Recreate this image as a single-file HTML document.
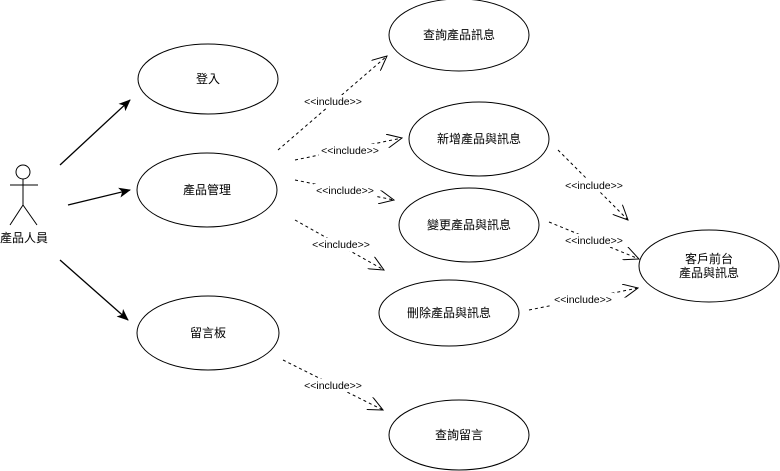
<!DOCTYPE html>
<html><head><meta charset="utf-8"><style>
html,body{margin:0;padding:0;background:#fff;}
svg{display:block;}
text{font-family:"Liberation Sans","Noto Sans CJK TC",sans-serif;fill:#000;}
</style></head><body>
<svg width="780" height="471" viewBox="0 0 780 471" xmlns="http://www.w3.org/2000/svg">
<defs>
<marker id="fill" markerWidth="12" markerHeight="10" refX="11" refY="5" orient="auto" markerUnits="userSpaceOnUse">
<path d="M0,0 L12,5 L0,10 L3,5 Z" fill="#000"/>
</marker>
<marker id="open" markerWidth="16" markerHeight="14" refX="15" refY="7" orient="auto" markerUnits="userSpaceOnUse">
<path d="M0,0 L15,7 L0,14" fill="none" stroke="#000" stroke-width="1"/>
</marker>
</defs>
<g fill="#fff" stroke="#000" stroke-width="1">
<ellipse cx="208" cy="79" rx="70" ry="35"/>
<ellipse cx="207" cy="190" rx="70" ry="37"/>
<ellipse cx="208" cy="333" rx="71" ry="37"/>
<ellipse cx="459" cy="35" rx="70" ry="36"/>
<ellipse cx="479" cy="139" rx="70" ry="37"/>
<ellipse cx="469" cy="225" rx="70" ry="37"/>
<ellipse cx="449" cy="313" rx="70" ry="33"/>
<ellipse cx="709" cy="266" rx="70" ry="36"/>
<ellipse cx="459" cy="435" rx="70" ry="35"/>
</g>
<g stroke="#000" stroke-width="1" fill="none">
<circle cx="23" cy="172" r="7"/>
<line x1="23" y1="179" x2="23" y2="205"/>
<line x1="10" y1="185" x2="38" y2="185"/>
<line x1="23" y1="205" x2="10" y2="225"/>
<line x1="23" y1="205" x2="37" y2="225"/>
</g>
<g stroke="#000" stroke-width="1.3">
<line x1="60" y1="165" x2="130" y2="100" marker-end="url(#fill)"/>
<line x1="68" y1="205" x2="130" y2="190" marker-end="url(#fill)"/>
<line x1="60" y1="260" x2="128" y2="320" marker-end="url(#fill)"/>
</g>
<g stroke="#000" stroke-width="1" stroke-dasharray="3,3" fill="none">
<line x1="278" y1="150" x2="387" y2="56" marker-end="url(#open)"/>
<line x1="295" y1="160" x2="402" y2="138" marker-end="url(#open)"/>
<line x1="295" y1="180" x2="394" y2="200" marker-end="url(#open)"/>
<line x1="295" y1="220" x2="384" y2="270" marker-end="url(#open)"/>
<line x1="558" y1="150" x2="628" y2="220" marker-end="url(#open)"/>
<line x1="549" y1="222" x2="639" y2="259" marker-end="url(#open)"/>
<line x1="529" y1="310" x2="638" y2="288" marker-end="url(#open)"/>
<line x1="283" y1="360" x2="383" y2="410" marker-end="url(#open)"/>
</g>
<g font-size="10.5" text-anchor="middle">
<rect x="302" y="95" width="62" height="13" fill="#fff"/><text x="333" y="105">&lt;&lt;include&gt;&gt;</text>
<rect x="319" y="144" width="62" height="13" fill="#fff"/><text x="350" y="154">&lt;&lt;include&gt;&gt;</text>
<rect x="314" y="184" width="62" height="13" fill="#fff"/><text x="345" y="194">&lt;&lt;include&gt;&gt;</text>
<rect x="310" y="238" width="62" height="13" fill="#fff"/><text x="341" y="248">&lt;&lt;include&gt;&gt;</text>
<rect x="563" y="179" width="62" height="13" fill="#fff"/><text x="594" y="189">&lt;&lt;include&gt;&gt;</text>
<rect x="563" y="234" width="62" height="13" fill="#fff"/><text x="594" y="244">&lt;&lt;include&gt;&gt;</text>
<rect x="552" y="293" width="62" height="13" fill="#fff"/><text x="583" y="303">&lt;&lt;include&gt;&gt;</text>
<rect x="302" y="379" width="62" height="13" fill="#fff"/><text x="333" y="389">&lt;&lt;include&gt;&gt;</text>
</g>
<g font-size="12" text-anchor="middle">
<text x="208" y="83">登入</text>
<text x="207" y="194">產品管理</text>
<text x="208" y="337">留言板</text>
<text x="459" y="39">查詢產品訊息</text>
<text x="479" y="143">新增產品與訊息</text>
<text x="469" y="229">變更產品與訊息</text>
<text x="449" y="317">刪除產品與訊息</text>
<text x="709" y="263">客戶前台</text>
<text x="709" y="277">產品與訊息</text>
<text x="459" y="439">查詢留言</text>
<text x="24" y="242">產品人員</text>
</g>
</svg>
</body></html>
